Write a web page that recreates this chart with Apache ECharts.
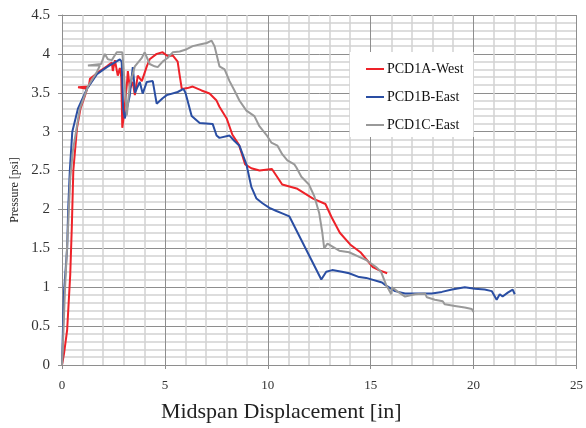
<!DOCTYPE html>
<html>
<head>
<meta charset="utf-8">
<script src="https://cdn.jsdelivr.net/npm/echarts@6/dist/echarts.min.js"></script>
<style>
  html, body { margin: 0; padding: 0; background: #fff; }
  #chart { width: 586px; height: 428px; }
</style>
</head>
<body>
<div id="chart"></div>
<script>
// Pressure vs. midspan displacement, three panels.
const seriesNames = ['PCD1A-West', 'PCD1B-East', 'PCD1C-East'];
const seriesColors = ['#ee2229', '#2a4ea3', '#999999'];

// [displacement (in), pressure (psi)]
const pcd1aWest = [
  [0,0],[0.1,0.15],[0.25,0.45],[0.4,1.16],[0.48,1.8],[0.55,2.5],[0.73,3.05],[0.9,3.3],
  [1.1,3.45],[1.22,3.55],[0.78,3.57],[1.3,3.58],[1.36,3.68],[1.84,3.78],[2.18,3.84],
  [2.42,3.89],[2.47,3.78],[2.57,3.92],[2.71,3.72],[2.81,3.82],[2.88,3.7],[2.93,3.05],
  [3.0,3.2],[3.15,3.6],[3.2,3.78],[3.3,3.55],[3.44,3.64],[3.54,3.47],[3.68,3.72],
  [3.88,3.65],[4.12,3.84],[4.26,3.93],[4.6,4.0],[4.89,4.02],[5.14,3.97],[5.38,3.98],
  [5.62,3.9],[5.72,3.72],[5.82,3.55],[6.1,3.56],[6.35,3.58],[6.78,3.53],[7.17,3.49],
  [7.51,3.4],[7.65,3.32],[8.0,3.17],[8.28,2.96],[8.6,2.83],[8.9,2.58],[9.2,2.53],
  [9.6,2.5],[10.2,2.52],[10.7,2.32],[11.4,2.27],[12.2,2.14],[12.8,2.07],[13.1,1.9],
  [13.5,1.7],[14.0,1.55],[14.5,1.45],[15.1,1.26],[15.4,1.22],[15.8,1.18]
];

const pcd1bEast = [
  [0,0],[0.05,0.5],[0.1,0.95],[0.25,1.5],[0.3,2.0],[0.38,2.5],[0.5,3.0],[0.78,3.3],
  [1.21,3.55],[1.7,3.74],[2.18,3.83],[2.57,3.89],[2.81,3.93],[2.9,3.9],[2.97,3.3],
  [3.05,3.17],[3.29,3.46],[3.44,3.83],[3.55,3.5],[3.63,3.55],[3.78,3.64],[3.92,3.49],
  [4.12,3.64],[4.41,3.65],[4.6,3.36],[4.89,3.43],[5.09,3.47],[5.62,3.51],[5.9,3.55],
  [6.0,3.5],[6.3,3.2],[6.69,3.11],[7.32,3.1],[7.51,2.95],[7.65,2.92],[8.14,2.95],
  [8.38,2.88],[8.62,2.82],[8.96,2.58],[9.2,2.29],[9.45,2.14],[9.74,2.08],[10.08,2.02],
  [10.42,1.98],[10.7,1.95],[11.05,1.91],[12.6,1.1],[12.84,1.2],[13.13,1.22],[13.6,1.2],
  [13.95,1.18],[14.44,1.13],[14.78,1.12],[15.55,1.06],[15.7,1.03],[16.18,0.95],
  [16.67,0.92],[17.3,0.92],[17.97,0.92],[18.46,0.94],[18.95,0.97],[19.57,1.0],
  [20.06,0.98],[20.54,0.97],[20.88,0.95],[21.12,0.84],[21.27,0.91],[21.41,0.88],
  [21.66,0.93],[21.9,0.97],[22.0,0.91]
];

const pcd1cEast = [
  [0,0],[0.05,0.3],[0.15,1.0],[0.3,1.8],[0.4,2.4],[0.53,2.76],[0.87,3.3],[1.26,3.58],
  [1.7,3.77],[1.84,3.85],[1.26,3.85],[1.9,3.87],[2.08,4.0],[2.23,3.93],[2.42,3.92],
  [2.66,4.02],[2.93,4.02],[3.05,3.6],[3.15,3.21],[3.29,3.59],[3.54,3.84],[3.88,3.95],
  [4.02,4.02],[4.26,3.87],[4.5,3.84],[4.65,3.83],[4.89,3.9],[5.14,3.95],[5.38,4.02],
  [5.72,4.03],[6.06,4.06],[6.35,4.1],[6.69,4.12],[7.03,4.14],[7.27,4.17],[7.41,4.1],
  [7.65,3.84],[7.9,3.8],[8.14,3.65],[8.38,3.53],[8.62,3.4],[8.96,3.27],[9.35,3.2],
  [9.59,3.07],[9.93,2.96],[10.17,2.86],[10.47,2.82],[10.7,2.71],[10.95,2.63],
  [11.29,2.58],[11.39,2.54],[11.63,2.42],[12.0,2.32],[12.26,2.17],[12.5,1.95],
  [12.65,1.7],[12.74,1.5],[12.9,1.56],[13.47,1.47],[13.95,1.45],[14.44,1.39],
  [14.78,1.35],[15.26,1.26],[15.5,1.2],[15.75,1.03],[16.0,0.91],[16.04,1.0],
  [16.28,0.95],[16.67,0.88],[17.15,0.91],[17.64,0.92],[17.73,0.87],[18.12,0.84],
  [18.5,0.82],[18.6,0.78],[19.09,0.76],[19.57,0.74],[19.91,0.72],[20.0,0.68]
];

const seriesData = [pcd1aWest, pcd1bEast, pcd1cEast];

const xTitle = 'Midspan Displacement [in]';
const yTitle = 'Pressure [psi]';

const serif = '"Liberation Serif", "DejaVu Serif", serif';
const majorGrid = '#8e8e8e';
const minorGrid = '#d2d2d2';

const chart = echarts.init(document.getElementById('chart'), null, { renderer: 'canvas' });

chart.setOption({
  animation: false,
  backgroundColor: '#ffffff',
  grid: { left: 62, right: 8, top: 15, bottom: 56, containLabel: false },
  xAxis: {
    type: 'value',
    min: 0, max: 25, interval: 5,
    name: xTitle,
    nameLocation: 'middle',
    nameGap: 36,
    nameTextStyle: { fontFamily: serif, fontSize: 22, color: '#222', padding: [0, 76, 0, 0] },
    axisLine: { show: true, lineStyle: { color: majorGrid, width: 1 } },
    axisTick: { show: true, inside: false, length: 4, lineStyle: { color: majorGrid } },
    axisLabel: { fontFamily: serif, fontSize: 13, color: '#333', margin: 14 },
    splitLine: { show: true, lineStyle: { color: majorGrid, width: 1 } },
    minorTick: { show: false, splitNumber: 5 },
    minorSplitLine: { show: true, lineStyle: { color: minorGrid, width: 1.5 } }
  },
  yAxis: {
    type: 'value',
    min: 0, max: 4.5, interval: 0.5,
    name: yTitle,
    nameLocation: 'middle',
    nameGap: 35,
    nameRotate: 90,
    nameTextStyle: { fontFamily: serif, fontSize: 12, color: '#222' },
    axisLine: { show: true, lineStyle: { color: majorGrid, width: 1 } },
    axisTick: { show: true, length: 4, lineStyle: { color: majorGrid } },
    axisLabel: { fontFamily: serif, fontSize: 15, color: '#333', margin: 12 },
    splitLine: { show: true, lineStyle: { color: majorGrid, width: 1 } },
    minorTick: { show: false, splitNumber: 5 },
    minorSplitLine: { show: true, lineStyle: { color: minorGrid, width: 1.5 } }
  },
  legend: {
    orient: 'vertical',
    left: 350,
    top: 52,
    padding: [10, 10, 5, 16],
    backgroundColor: '#ffffff',
    itemWidth: 18,
    itemHeight: 2,
    itemGap: 14,
    icon: 'rect',
    textStyle: { fontFamily: serif, fontSize: 14, color: '#111', padding: [0, 0, 0, -2] },
    data: seriesNames
  },
  series: seriesNames.map((name, i) => ({
    name: name,
    type: 'line',
    data: seriesData[i],
    showSymbol: false,
    symbol: 'none',
    color: seriesColors[i],
    lineStyle: { color: seriesColors[i], width: 2 },
    z: 2 + i
  }))
});
</script>
</body>
</html>
